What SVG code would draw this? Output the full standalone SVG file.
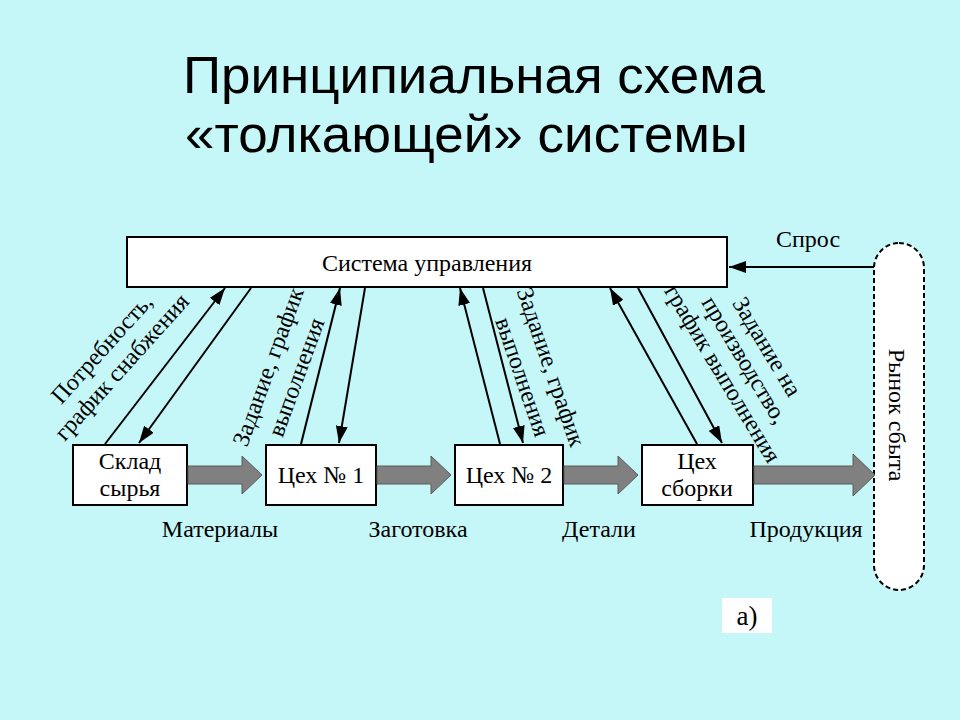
<svg xmlns="http://www.w3.org/2000/svg" width="960" height="720" viewBox="0 0 960 720">
  <defs>
    <style>
      .title { font-family: "Liberation Sans", Arial, sans-serif; font-size: 52px; fill: #000; }
      .t { font-family: "Liberation Serif", "Times New Roman", serif; font-size: 24px; fill: #000; }
      .box { fill: #fff; stroke: #000; stroke-width: 2; }
      .ln { stroke: #000; stroke-width: 2; fill: none; marker-end: url(#ah); }
      .flow { fill: #808080; stroke: #5a5a5a; stroke-width: 1; }
    </style>
    <marker id="ah" markerUnits="userSpaceOnUse" markerWidth="18" markerHeight="12" refX="17" refY="6" orient="auto">
      <path d="M0,0 L17,6 L0,12 Z" fill="#000"/>
    </marker>
  </defs>

  <rect x="0" y="0" width="960" height="720" fill="#C6F7F8"/>

  <g id="title">
    <text class="title" x="183" y="93" textLength="582" lengthAdjust="spacingAndGlyphs">Принципиальная схема</text>
    <text class="title" x="185" y="152" textLength="563" lengthAdjust="spacingAndGlyphs">«толкающей» системы</text>
  </g>

  <g id="control">
    <rect class="box" x="127" y="237" width="600" height="50"/>
    <text class="t" x="427" y="271" text-anchor="middle">Система управления</text>
  </g>

  <g id="market">
    <rect x="874" y="243" width="50" height="347" rx="25" ry="25" fill="#fff" stroke="#000" stroke-width="2" stroke-dasharray="5 3"/>
    <g transform="translate(897,415) rotate(90)">
      <text class="t" x="0" y="8" text-anchor="middle">Рынок сбыта</text>
    </g>
  </g>

  <g id="sklad">
    <rect class="box" x="73" y="445" width="114" height="60"/>
    <text class="t" x="130" y="469" text-anchor="middle">Склад</text>
    <text class="t" x="130" y="496" text-anchor="middle">сырья</text>
  </g>

  <g id="ceh1">
    <rect class="box" x="266" y="445" width="110" height="60"/>
    <text class="t" x="321" y="483" text-anchor="middle">Цех № 1</text>
  </g>

  <g id="ceh2">
    <rect class="box" x="455" y="445" width="108" height="60"/>
    <text class="t" x="509" y="483" text-anchor="middle">Цех № 2</text>
  </g>

  <g id="sborka">
    <rect class="box" x="642" y="445" width="111" height="60"/>
    <text class="t" x="697" y="469" text-anchor="middle">Цех</text>
    <text class="t" x="697" y="496" text-anchor="middle">сборки</text>
  </g>

  <g id="connectors">
    <path class="flow" d="M188,466 H242 V456 L262,475 L242,494 V484 H188 Z"/>
    <path class="flow" d="M377,466 H431 V456 L451,475 L431,494 V484 H377 Z"/>
    <path class="flow" d="M564,466 H618 V456 L638,475 L618,494 V484 H564 Z"/>
    <path class="flow" d="M754,466 H853 V454 L875,475 L853,496 V484 H754 Z"/>

    <line class="ln" x1="105" y1="444" x2="225" y2="288"/>
    <line class="ln" x1="251" y1="288" x2="139" y2="443"/>
    <line class="ln" x1="301" y1="444" x2="340" y2="288"/>
    <line class="ln" x1="365" y1="288" x2="339" y2="443"/>
    <line class="ln" x1="500" y1="444" x2="460" y2="288"/>
    <line class="ln" x1="483" y1="288" x2="523" y2="443"/>
    <line class="ln" x1="697" y1="444" x2="610" y2="288"/>
    <line class="ln" x1="638" y1="288" x2="722" y2="443"/>
    <line class="ln" x1="874" y1="267" x2="729" y2="267"/>
  </g>

  <g id="labels">
    <text class="t" x="808" y="247" text-anchor="middle">Спрос</text>
    <text class="t" x="220" y="537" text-anchor="middle">Материалы</text>
    <text class="t" x="418" y="537" text-anchor="middle">Заготовка</text>
    <text class="t" x="599" y="537" text-anchor="middle">Детали</text>
    <text class="t" x="806" y="537" text-anchor="middle">Продукция</text>

    <g transform="translate(112,358) rotate(-48)">
      <text class="t" x="0" y="-6" text-anchor="middle">Потребность,</text>
      <text class="t" x="0" y="21" text-anchor="middle">график снабжения</text>
    </g>
    <g transform="translate(282,372) rotate(-70)">
      <text class="t" x="0" y="-7" text-anchor="middle">Задание, график</text>
      <text class="t" x="0" y="23" text-anchor="middle">выполнения</text>
    </g>
    <g transform="translate(537,372) rotate(71)">
      <text class="t" x="0" y="-7" text-anchor="middle">Задание, график</text>
      <text class="t" x="0" y="23" text-anchor="middle">выполнения</text>
    </g>
    <g transform="translate(745,360) rotate(59)">
      <text class="t" x="0" y="-18" text-anchor="middle">Задание на</text>
      <text class="t" x="0" y="8" text-anchor="middle">производство,</text>
      <text class="t" x="0" y="34" text-anchor="middle">график выполнения</text>
    </g>
  </g>

  <g id="caption">
    <rect x="722" y="598" width="50" height="35" fill="#fff"/>
    <text class="t" x="747" y="625" text-anchor="middle" style="font-size:27px">а)</text>
  </g>
</svg>
